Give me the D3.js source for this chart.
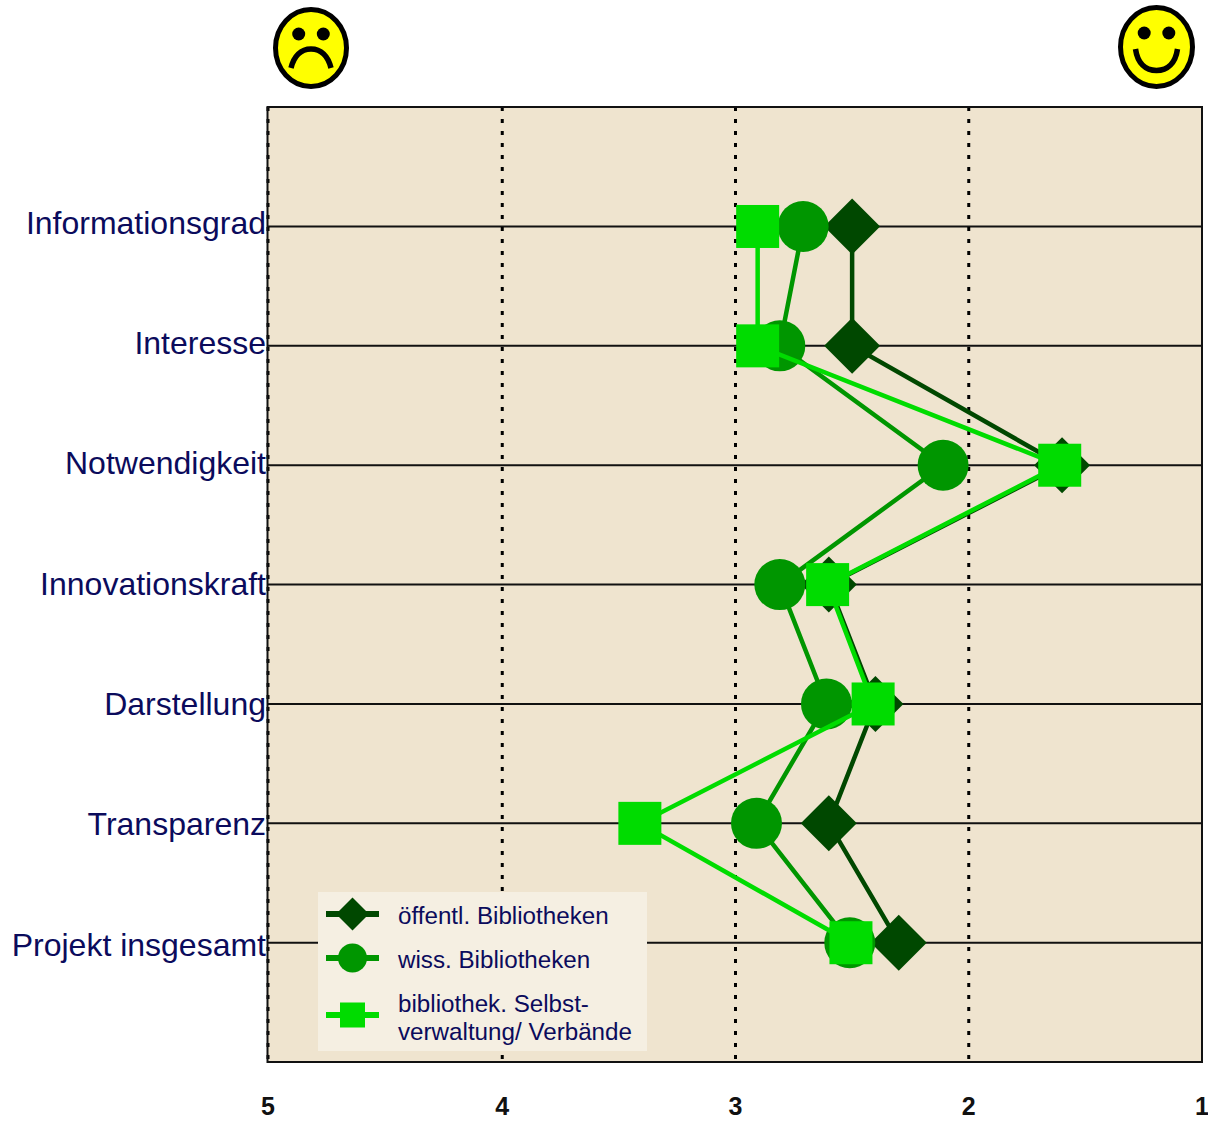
<!DOCTYPE html>
<html><head><meta charset="utf-8">
<script src="https://cdn.jsdelivr.net/npm/d3@7"></script>
<style>html,body{margin:0;padding:0;background:#fff}svg{display:block}text{font-family:"Liberation Sans",Arial,sans-serif}</style>
</head><body><div id="chart"></div>
<script>
const categories = ["Informationsgrad","Interesse","Notwendigkeit","Innovationskraft","Darstellung","Transparenz","Projekt insgesamt"];
const oeffentl = [2.5,2.5,1.6,2.6,2.4,2.6,2.3];
const wiss = [2.71,2.81,2.11,2.81,2.61,2.91,2.51];
const selbst = [2.905,2.905,1.61,2.605,2.41,3.41,2.505];
const xTicks = [5,4,3,2,1];

const W=1208,H=1121,L=267.5,R=1202,T=107,B=1062;
const svg=d3.select("#chart").append("svg").attr("width",W).attr("height",H);
const x=d3.scaleLinear().domain([5,1]).range([269,R]);
const gx=d=>x(d)-(d===5?1:0);
const y=d3.scalePoint().domain(categories).range([T+0.1,B+0.1]).padding(1);
const yLabel=d3.scalePoint().domain(categories).range([233.5,955.5]);
const navy="#0b0b5c";

svg.append("rect").attr("x",L).attr("y",T).attr("width",R-L).attr("height",B-T).attr("fill","#efe4cf");

// horizontal lines
svg.append("g").selectAll("line").data(categories).join("line")
  .attr("x1",L).attr("x2",R).attr("y1",d=>y(d)).attr("y2",d=>y(d))
  .attr("stroke","#111").attr("stroke-width",2);
// dotted vertical lines
svg.append("g").selectAll("line").data(xTicks.slice(0,4)).join("line")
  .attr("x1",gx).attr("x2",gx).attr("y1",T).attr("y2",B)
  .attr("stroke","#000").attr("stroke-width",3).attr("stroke-dasharray","4 8");
// frame
svg.append("rect").attr("x",L).attr("y",T).attr("width",R-L).attr("height",B-T)
  .attr("fill","none").attr("stroke","#111").attr("stroke-width",2);

// category labels
svg.append("g").selectAll("text").data(categories).join("text")
  .attr("x",L-1.5).attr("y",d=>yLabel(d)).attr("text-anchor","end")
  .attr("font-size",32).attr("fill",navy).text(d=>d);
// tick labels
svg.append("g").selectAll("text").data(xTicks).join("text")
  .attr("x",gx).attr("y",1115).attr("text-anchor","middle")
  .attr("font-size",25).attr("font-weight","bold").attr("fill","#111").text(d=>d);

const sym={
  diamond:(g,cx,cy,c,s)=>g.append("path").attr("d",`M${cx},${cy-s}L${cx+s},${cy}L${cx},${cy+s}L${cx-s},${cy}Z`).attr("fill",c),
  circle:(g,cx,cy,c,s)=>g.append("circle").attr("cx",cx).attr("cy",cy).attr("r",s).attr("fill",c),
  square:(g,cx,cy,c,s)=>g.append("rect").attr("x",cx-s).attr("y",cy-s).attr("width",2*s).attr("height",2*s).attr("fill",c)
};
const series=[
  {name:["öffentl. Bibliotheken"],vals:oeffentl,color:"#004800",sym:"diamond",size:28,ls:16.5},
  {name:["wiss. Bibliotheken"],vals:wiss,color:"#009600",sym:"circle",size:25.5,ls:14.5},
  {name:["bibliothek. Selbst-","verwaltung/ Verbände"],vals:selbst,color:"#00dc00",sym:"square",size:21.5,ls:12.5}
];
const line=d3.line().x(d=>x(d.v)).y(d=>y(d.c));
series.forEach(s=>{
  const pts=s.vals.map((v,i)=>({v,c:categories[i]}));
  const g=svg.append("g");
  g.append("path").attr("d",line(pts)).attr("fill","none").attr("stroke",s.color).attr("stroke-width",4.5);
  pts.forEach(p=>sym[s.sym](g,x(p.v),y(p.c),s.color,s.size));
});

// legend
const lg=svg.append("g");
lg.append("rect").attr("x",318).attr("y",892).attr("width",329).attr("height",159).attr("fill","#f5efe2");
const ly=[914,958,1015], ty=[[924],[968],[1012,1040]];
series.forEach((s,i)=>{
  lg.append("line").attr("x1",326).attr("x2",379).attr("y1",ly[i]).attr("y2",ly[i]).attr("stroke",s.color).attr("stroke-width",6);
  sym[s.sym](lg,352.5,ly[i],s.color,s.ls);
  s.name.forEach((t,j)=>lg.append("text").attr("x",398).attr("y",ty[i][j]).attr("font-size",24.2).attr("fill",navy).text(t));
});

// smileys
function face(cx,cy,rx,ry,happy){
  const g=svg.append("g");
  g.append("ellipse").attr("cx",cx).attr("cy",cy).attr("rx",rx).attr("ry",ry).attr("fill","#ffff00").attr("stroke","#000").attr("stroke-width",5);
  [-12.3,12.3].forEach(dx=>g.append("circle").attr("cx",cx+dx).attr("cy",cy-14).attr("r",6.5).attr("fill","#000"));
  const d=happy
    ? `M${cx-21},${cy+2}C${cx-19},${cy+16} ${cx-11},${cy+23.5} ${cx},${cy+23.5}C${cx+11},${cy+23.5} ${cx+19},${cy+16} ${cx+21},${cy+2}`
    : `M${cx-20},${cy+20}C${cx-17},${cy+8} ${cx-10},${cy+1} ${cx},${cy+1}C${cx+10},${cy+1} ${cx+17},${cy+8} ${cx+20},${cy+20}`;
  g.append("path").attr("d",d).attr("fill","none").attr("stroke","#000").attr("stroke-width",5.5);
}
face(311,48,35.5,38.5,false);
face(1156.5,47,36,39.5,true);
</script></body></html>
